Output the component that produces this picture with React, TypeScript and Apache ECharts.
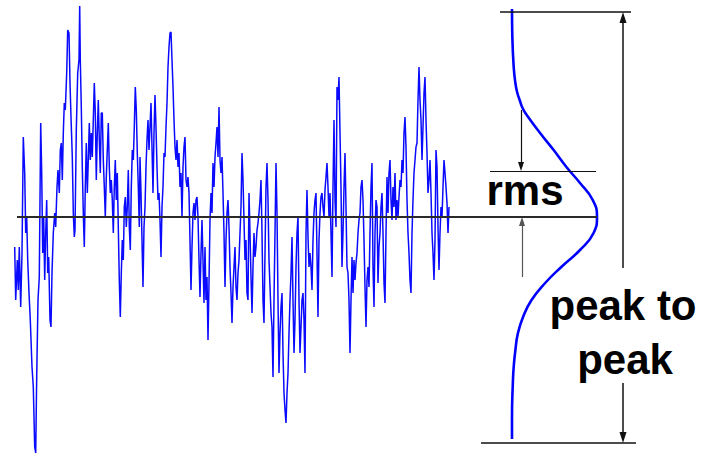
import React, { useEffect, useRef } from "react";
import * as echarts from "echarts";

// Noise signal: [time, amplitude] (amplitude 0 = mean)
const noiseA: [number, number][] = [
  [14.7,-30],[15.7,-83],[17.3,-43],[18.3,-73],[19.3,-30],[20.7,-90],[22,-36],[23.3,80],[24.7,44],[25.7,-16],[26.7,0],[27.7,-43],[29,-76],[30.3,-103],[32,-150],[33.3,-170],[34.7,-230],[35.7,-236],[36.7,-160],[38,-83],[39.3,-60],[40.7,94],[41.7,44],[42.7,-36],[43.7,0],[44.7,-63],[45.7,-16],[46.7,17],[47.7,-56],[48.7,-40],[50,-103],[51,-110],[52,-56],[53.3,-16],[54.7,4],[55.7,-10],[57,30],[58,47],[59.3,24],[60.3,67],[61.3,74],[62.3,37],[63.3,84],[64.3,114],[65.3,107],[66.7,144],[67.7,187],[69,184],[70,134],[71,100],[72.3,60],[73.3,4],[74.3,-20],
];
const noiseB: [number, number][] = [
  [75,-13],[76.3,87],[77.7,144],[79,157],[79.7,211],[80.3,157],[81.3,110],[82.3,50],[83.3,4],[84.3,-30],[85.3,30],[86.3,74],[87.3,24],[88.3,57],[89.3,94],[90.3,57],[91.3,84],[92.3,60],[93.3,97],[94.3,134],[95.3,104],[96.3,37],[97.3,84],[98.3,117],[99.3,77],[100.3,44],[101.3,104],[102.3,104],[103.3,57],[104.3,30],[105.3,0],[106.3,40],[107.3,67],[108.3,94],[109.3,50],[110.3,24],[111.3,37],[112.3,17],[113.3,-16],[114.3,30],[115.3,57],[116.3,17],[117.3,44],[118.3,-10],[119.3,-63],[120.3,-100],[121.3,-56],[122.3,-23],[123.3,-43],[124.3,10],[125.3,20],[126.3,-10],[127.3,10],[128.3,47],[129.3,-10],[130.3,-33],[131.3,30],[132.3,67],[133.3,57],[134.3,90],[135.3,130],[136.3,107],[137.3,64],[138.3,30],[139.3,-10],
];
const noiseC: [number, number][] = [
  [140,60],[141,24],[142,-23],[143,-70],[144,-10],[145,10],[146,50],[147,77],[148,97],[149,67],[150,90],[151,114],[152,70],[153,24],[154,84],[155,122],[156,90],[157,50],[158,17],[159,24],[160,-3],[161,-40],[162,10],[163,30],[164,64],[165,60],[166,90],[167,114],[168,150],[169,170],[170,184],[171,185],[172,157],[173,130],[174,97],[175,70],[176,57],[177,77],[178,50],[179,64],[180,30],[181,44],[182,0],[183,50],[184,70],[185,80],[186,37],[187,30],[188,40],[189,24],[190,-23],[191,-73],[192,-30],[193,4],[194,14],[195,-3],[196,17],[197,20],[198,0],[199,-43],[200,-80],[201,-36],[202,-3],[203,-43],[204,-86],
];
const noiseD: [number, number][] = [
  [205,-30],[206,-83],[207,-60],[208,-123],[209,-66],[210,-3],[211,24],[212,4],[213,54],[214,30],[215,60],[216,74],[217,90],[218,60],[219,110],[220,57],[221,44],[222,60],[223,24],[224,-16],[225,-70],[226,-23],[227,4],[228,17],[229,-10],[230,-50],[231,-76],[232,-106],[233,-70],[234,-50],[235,-30],[236,-70],[237,-83],[238,-56],[239,-43],[240,-16],[241,10],[242,64],[243,37],[244,-3],[245,-43],[246,-23],[247,-76],[248,-83],[249,24],[250,-16],[251,-60],[252,-96],[253,-50],[254,-16],[255,-40],[256,-30],[257,-13],[258,-6],[259,4],[260,17],[261,37],[262,-16],[263,-83],[264,-106],[265,-36],[266,30],[267,54],[268,17],[269,-43],[270,-70],
];
const noiseE: [number, number][] = [
  [271,-96],[272,-110],[273,-160],[274,-83],[275,-16],[276,54],[277,4],[278,-83],[279,-156],[280,-116],[281,-90],[282,-76],[283,-136],[284,-176],[285,-193],[286,-206],[287,-176],[288,-156],[289,-116],[290,-83],[291,-56],[292,-20],[293,-83],[294,-136],[295,-103],[296,-50],[297,-16],[298,0],[299,-83],[300,-136],[301,-110],[302,-83],[303,-76],[304,-103],[305,-156],[306,-16],[307,27],[308,-20],[309,-50],[310,-36],[311,-50],[312,-73],[313,-23],[314,4],[315,17],[316,24],[317,-36],[318,-100],[319,-23],[320,4],[321,20],[322,24],[323,10],[324,0],[325,27],[326,40],[327,54],[328,30],[329,0],[330,24],[331,-16],[332,-60],[333,30],[334,97],
];
const noiseF: [number, number][] = [
  [335,17],[336,-10],[337,130],[338,117],[339,140],[340,84],[341,30],[342,-50],[343,-16],[344,30],[345,64],[346,10],[347,-50],[348,-56],[349,-83],[350,-136],[351,-83],[352,-40],[353,-76],[354,-43],[355,-63],[356,-46],[357,-36],[358,-16],[359,-3],[360,4],[361,30],[362,37],[363,17],[364,-23],[365,-70],[366,-110],[367,-63],[368,-50],[369,-70],[370,-16],[371,30],[372,54],[373,-50],[374,-90],[375,-16],[376,17],[377,10],[378,-66],[379,-30],[380,-16],[381,10],[382,24],[383,-16],[384,-66],[385,-86],[386,-16],[387,40],[388,4],[389,44],[390,57],[391,17],[392,-3],[393,30],[394,10],[395,44],[396,-3],[397,17],
];
const noiseG: [number, number][] = [
  [398,0],[399,20],[400,37],[401,30],[402,57],[403,44],[404,84],[405,100],[406,70],[407,17],[408,-16],[409,-36],[410,-63],[411,-76],[412,-16],[413,17],[414,44],[415,57],[416,70],[417,74],[418,117],[419,150],[420,117],[421,97],[422,57],[423,90],[424,124],[425,140],[426,97],[427,64],[428,24],[429,37],[430,57],[431,24],[432,-16],[433,-36],[434,-63],[435,-23],[436,67],[437,50],[438,-10],[439,-53],[440,-16],[441,10],[442,0],[443,30],[444,57],[445,44],[446,30],[447,14],[448,-16],[449,10],
];

// Distribution (normalised density vs amplitude)
const gaussAmplitude = [208, 180, 150, 134, 125, 117, 108, 100, 84, 67, 50, 34, 17, 0, -16, -33, -50, -66, -83, -100, -116, -133, -150, -166, -200, -222];
const gaussDensity = [0, 0.004, 0.02, 0.04, 0.06, 0.09, 0.13, 0.19, 0.33, 0.49, 0.64, 0.8, 0.95, 1.0, 0.96, 0.8, 0.58, 0.39, 0.23, 0.13, 0.07, 0.04, 0.02, 0.01, 0, 0];

// Statistics (amplitude units)
const MEAN = 0;
const RMS = 46;
const PEAK_MAX = 205;
const PEAK_MIN = -226;

// Labels
const RMS_LABEL = "rms";
const P2P_LABEL = ["peak to", "peak"];

export default function App() {
  const ref = useRef<HTMLDivElement>(null);
  useEffect(() => {
    if (!ref.current) return;
    const chart = echarts.init(ref.current, undefined, { renderer: "svg" });
    const noise = [...noiseA, ...noiseB, ...noiseC, ...noiseD, ...noiseE, ...noiseF, ...noiseG];
    const gauss = gaussAmplitude.map((a, i) => [gaussDensity[i], a]);

    const black = "#111";
    const seg = (t0: number, a0: number, t1: number, a1: number, width: number, color: string, arrow?: number[]) => [
      { coord: [t0, a0], symbol: "none", lineStyle: { width, color, type: "solid" } },
      { coord: [t1, a1], symbol: arrow ? "triangle" : "none", symbolSize: arrow || 0, itemStyle: { color } },
    ];
    const bigArrow = [7, 11];
    const smallArrow = [6, 9];

    const markData = [
      seg(17, MEAN, 597, MEAN, 2, "#2a2a2a"),
      seg(490, RMS, 596, RMS, 1.2, black),
      seg(500, PEAK_MAX, 631, PEAK_MAX, 1.5, black),
      seg(481, PEAK_MIN, 636, PEAK_MIN, 1.5, black),
      seg(623, -51, 623, PEAK_MAX - bigArrow[1] / 2, 1.5, black, bigArrow),
      seg(623, -166, 623, PEAK_MIN + bigArrow[1] / 2, 1.5, black, bigArrow),
      seg(521, 107, 521, RMS + smallArrow[1] / 2, 1.2, black, smallArrow),
      seg(522, -60, 522, MEAN - smallArrow[1] / 2, 1.2, "#555", smallArrow),
    ];

    const font = 'bold 42px "Liberation Sans", Arial, sans-serif';
    chart.setOption({
      animation: false,
      grid: { left: 0, right: 0, top: 0, bottom: 0 },
      xAxis: [
        { type: "value", min: 0, max: 703, show: false },
        { type: "value", min: -6.0235, max: 2.2471, show: false },
      ],
      yAxis: { type: "value", min: -239, max: 217, show: false },
      series: [
        {
          type: "line",
          name: "noise",
          data: noise,
          xAxisIndex: 0,
          showSymbol: false,
          symbol: "none",
          silent: true,
          lineStyle: { color: "#0a0aff", width: 1.5 },
          markLine: {
            silent: true,
            z: 5,
            symbol: ["none", "none"],
            label: { show: false },
            emphasis: { disabled: true },
            data: markData,
          },
        },
        {
          type: "line",
          name: "distribution",
          data: gauss,
          xAxisIndex: 1,
          showSymbol: false,
          symbol: "none",
          silent: true,
          smooth: 0.5,
          lineStyle: { color: "#0000ff", width: 2.6 },
        },
      ],
      graphic: [
        { type: "text", x: 525, y: 190, style: { text: RMS_LABEL, font, fill: "#000", align: "center", verticalAlign: "middle" } },
        { type: "text", x: 623, y: 305, style: { text: P2P_LABEL[0], font, fill: "#000", align: "center", verticalAlign: "middle" } },
        { type: "text", x: 625, y: 359, style: { text: P2P_LABEL[1], font, fill: "#000", align: "center", verticalAlign: "middle" } },
      ],
    });
    return () => chart.dispose();
  }, []);
  return <div ref={ref} style={{ position: "fixed", left: 0, top: 0, width: 703, height: 456, background: "#fff" }} />;
}
